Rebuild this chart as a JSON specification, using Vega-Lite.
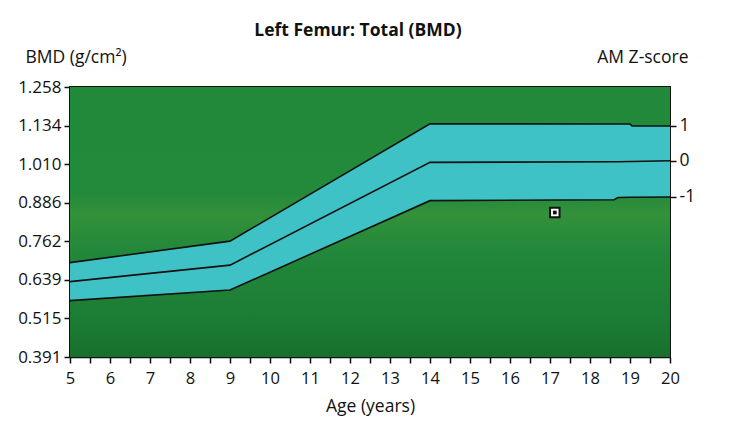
{
  "$schema": "https://vega.github.io/schema/vega-lite/v6.json",
  "width": 600,
  "height": 270,
  "autosize": {"type": "none"},
  "padding": {"left": 70, "top": 87, "right": 80, "bottom": 72},
  "background": "white",
  "title": {"text": "Left Femur: Total (BMD)", "fontSize": 17.5, "fontWeight": "bold", "font": "Open Sans", "color": "#111", "anchor": "middle", "frame": "group", "dx": -12, "offset": 9},
  "config": {
    "view": {"stroke": "#111", "strokeWidth": 2},
    "axis": {"labelFont": "Open Sans", "titleFont": "Open Sans", "labelFontSize": 16.5, "titleFontSize": 17.5, "labelColor": "#111", "titleColor": "#111", "tickColor": "#111", "domainColor": "#111", "grid": false, "titleFontWeight": "normal", "tickSize": 6, "domainWidth": 1.5, "tickWidth": 1.5, "labelOverlap": false}
  },
  "datasets": {
    "bands": [
      {"age": 5, "lower": 0.572, "mid": 0.633, "upper": 0.694},
      {"age": 9, "lower": 0.606, "mid": 0.686, "upper": 0.763},
      {"age": 14, "lower": 0.893, "mid": 1.016, "upper": 1.140},
      {"age": 18.6, "lower": 0.896, "mid": 1.018, "upper": 1.139},
      {"age": 18.7, "lower": 0.903, "mid": 1.018, "upper": 1.139},
      {"age": 19, "lower": 0.904, "mid": 1.019, "upper": 1.139},
      {"age": 19.05, "lower": 0.904, "mid": 1.019, "upper": 1.133},
      {"age": 20, "lower": 0.905, "mid": 1.021, "upper": 1.133}
    ],
    "frame": [{"age": 5, "age2": 20, "b0": 0.391, "b1": 1.258}],
    "patient": [{"age": 17.12, "bmd": 0.855}]
  },
  "encoding": {
    "x": {"field": "age", "type": "quantitative", "scale": {"domain": [5, 20], "nice": false, "zero": false},
      "axis": {"values": [5,5.5,6,6.5,7,7.5,8,8.5,9,9.5,10,10.5,11,11.5,12,12.5,13,13.5,14,14.5,15,15.5,16,16.5,17,17.5,18,18.5,19,19.5,20],
        "labelExpr": "datum.value % 1 == 0 ? '' + datum.value : ''", "labelOverlap": false, "labelBound": false, "title": "Age (years)", "labelPadding": 7, "titlePadding": 11, "labelFlush": false}}
  },
  "layer": [
    {
      "data": {"name": "frame"},
      "mark": {"type": "rect", "color": {"gradient": "linear", "x1": 0, "y1": 0, "x2": 0, "y2": 1, "stops": [
        {"offset": 0, "color": "#22883a"},
        {"offset": 0.4, "color": "#248a3b"},
        {"offset": 0.47, "color": "#33913a"},
        {"offset": 0.62, "color": "#21873a"},
        {"offset": 0.85, "color": "#1c7d34"},
        {"offset": 1, "color": "#17702d"}
      ]}},
      "encoding": {
        "x2": {"field": "age2"},
        "y": {"field": "b0", "type": "quantitative", "scale": {"domain": [0.391, 1.258], "nice": false, "zero": false},
          "axis": {"orient": "left", "values": [0.391, 0.515, 0.639, 0.762, 0.886, 1.010, 1.134, 1.258], "format": ".3f", "labelPadding": 3, "labelOverlap": false, "labelFontSize": 17,
            "title": "BMD (g/cm²)", "titleAngle": 0, "titleAlign": "left", "titleBaseline": "alphabetic", "titleX": -45, "titleY": -25, "labelFlush": false}},
        "y2": {"field": "b1"}
      }
    },
    {
      "data": {"name": "bands"},
      "mark": {"type": "area", "color": "#3fc2c6", "opacity": 1},
      "encoding": {
        "y": {"field": "lower", "type": "quantitative", "axis": null},
        "y2": {"field": "upper"}
      }
    },
    {
      "data": {"name": "bands"},
      "mark": {"type": "line", "color": "#111", "strokeWidth": 1.6},
      "encoding": {
        "y": {"field": "upper", "type": "quantitative",
          "axis": {"orient": "right", "values": [0.905, 1.021, 1.133], "labelExpr": "datum.value > 1.1 ? '1' : (datum.value > 1 ? '0' : '-1')", "labelPadding": 3, "labelFontSize": 17.5, "labelOverlap": false,
            "title": "AM Z-score", "titleAngle": 0, "titleAlign": "right", "titleBaseline": "alphabetic", "titleX": 18, "titleY": -25, "domain": false}}
      }
    },
    {
      "data": {"name": "bands"},
      "mark": {"type": "line", "color": "#111", "strokeWidth": 1.6},
      "encoding": {
        "y": {"field": "mid", "type": "quantitative", "axis": null}
      }
    },
    {
      "data": {"name": "bands"},
      "mark": {"type": "line", "color": "#111", "strokeWidth": 1.6},
      "encoding": {
        "y": {"field": "lower", "type": "quantitative", "axis": null}
      }
    },
    {
      "data": {"name": "patient"},
      "mark": {"type": "square", "filled": true, "fill": "white", "stroke": "#111", "strokeWidth": 2, "size": 90, "opacity": 1},
      "encoding": {
        "y": {"field": "bmd", "type": "quantitative", "axis": null}
      }
    },
    {
      "data": {"name": "patient"},
      "mark": {"type": "square", "filled": true, "color": "#111", "size": 14, "opacity": 1},
      "encoding": {
        "y": {"field": "bmd", "type": "quantitative", "axis": null}
      }
    }
  ],
  "resolve": {"axis": {"y": "independent"}}
}
